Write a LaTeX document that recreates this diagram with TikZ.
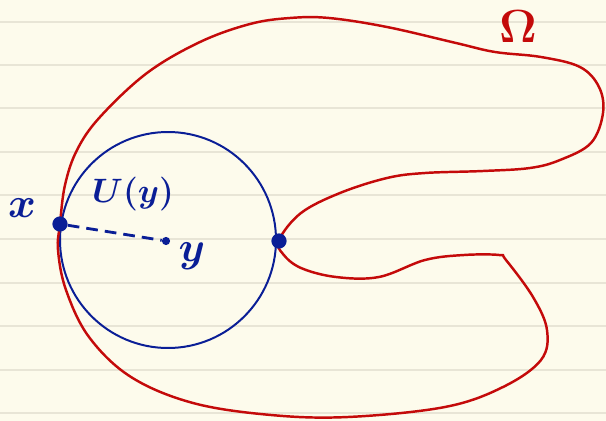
\documentclass[tikz,border=0pt]{standalone}
\usepackage{tikz}
\usetikzlibrary{arrows.meta,positioning,calc}
\definecolor{paper}{HTML}{FDFBEC}
\definecolor{rule}{HTML}{E8E5D6}
\definecolor{inkred}{HTML}{C40A0A}
\definecolor{inkblue}{HTML}{0A1E96}

\begin{document}
\begin{tikzpicture}[
  x=0.03cm, y=-0.03cm,
  >=Stealth,
  dot/.style={circle, fill=inkblue, inner sep=0pt, minimum size=13pt},
  smalldot/.style={circle, fill=inkblue, inner sep=0pt, minimum size=7pt},
  lbl/.style={text=inkblue, font=\fontsize{24}{28}\selectfont\boldmath, scale=1.45, transform shape}
]
\fill[paper] (0,0) rectangle (606,421);
\useasboundingbox (0,0) rectangle (606,421);
\foreach \yy in {22,65,108,152,195,239,283,326,370,413}
  \draw[rule, line width=1.2pt] (0,\yy) -- (606,\yy);

\draw[inkblue, line width=1.7pt] (168,240) circle[radius=108];

\draw[inkred, line width=2.1pt] plot[smooth cycle, tension=0.6] coordinates {
  (60,224) (65,185) (77,150) (100,117) (147,73) (200,42) (250,24) (290,18)
  (329,18) (387,27) (456,43) (495,52) (541,57) (580,67) (599,87) (603,113)
  (591,143) (560,160) (530,168) (483,171) (425,173) (387,178) (340,193)
  (301,213) (279,240) (283,254) (301,268) (336,277) (379,277) (425,260)
  (464,255) (499,255) (506,260) (533,297) (547,330) (541,360) (503,387)
  (445,407) (348,417) (271,415) (193,403) (131,377) (89,337) (66,290)
  (58,250)};

\node[dot] (X) at (60,224) {};
\node[dot] (B) at (279,241) {};
\node[smalldot] (Y) at (166,241) {};

\draw[inkblue, line width=2.4pt, dash pattern=on 10pt off 6pt] (X) -- (Y);

\node[lbl] (xlab) at (22,208) {$x$};
\node[lbl] (ylab) at (192,256) {$y$};
\node[lbl, scale=0.8] (Ulab) at (133,194) {$U(y)$};
\node[lbl, text=inkred, scale=1.1] (Om) at (518,27) {$\Omega$};
\end{tikzpicture}
\end{document}
